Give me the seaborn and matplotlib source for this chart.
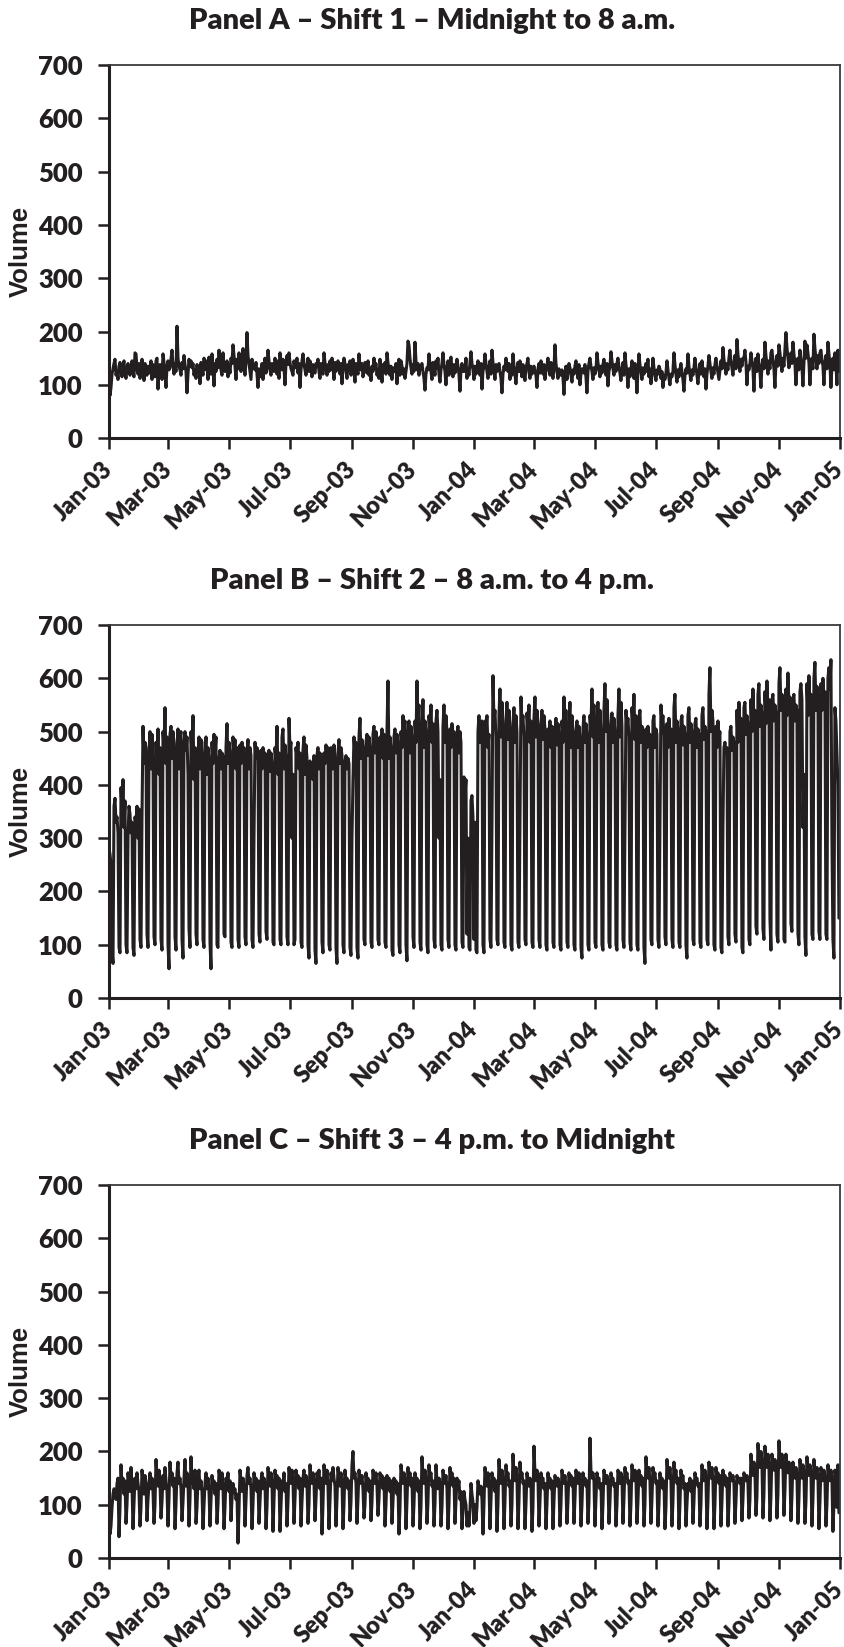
import pandas as pd
import matplotlib
matplotlib.use("Agg")
import matplotlib.pyplot as plt
import matplotlib.dates as mdates
import seaborn as sns


# ==========================================
# DATA (daily volumes, starting 1 Jan 2003)
# ==========================================

start_date = "2003-01-01"

shift1 = [
    125, 80, 95, 120, 130,
    140, 148, 118, 125, 110, 135, 142,
    128, 115, 138, 145, 120, 112, 130,
    140, 125, 118, 132, 145, 122, 115,
    160, 158, 130, 120, 140, 112, 125,
    148, 132, 108, 140, 125, 118, 135,
    122, 130, 145, 110, 138, 128, 115,
    145, 150, 92, 130, 138, 125, 110,
    158, 142, 120, 95, 135, 145, 128,
    132, 148, 165, 138, 120, 140, 125,
    210, 150, 135, 128, 118, 142, 130,
    155, 138, 125, 85, 120, 148, 135,
    145, 132, 140, 118, 128, 112, 138,
    125, 135, 102, 142, 130, 118, 150,
    138, 128, 145, 110, 152, 135, 120,
    158, 130, 98, 140, 125, 148, 132,
    165, 142, 128, 118, 160, 135, 125,
    130, 145, 115, 138, 122, 150, 140,
    175, 155, 135, 110, 148, 130, 160,
    142, 125, 150, 168, 135, 118, 145,
    198, 155, 140, 125, 110, 148, 135,
    138, 128, 142, 120, 95, 130, 115,
    125, 140, 110, 135, 150, 122, 132,
    165, 145, 128, 118, 140, 132, 125,
    150, 138, 120, 145, 112, 160, 135,
    128, 148, 132, 100, 140, 155, 138,
    160, 142, 130, 125, 118, 145, 132,
    135, 150, 122, 140, 95, 128, 145,
    158, 140, 128, 118, 135, 150, 125,
    145, 130, 115, 138, 128, 122, 140,
    135, 148, 125, 112, 140, 130, 120,
    160, 142, 130, 118, 138, 125, 145,
    128, 150, 135, 110, 142, 125, 138,
    145, 132, 120, 140, 102, 135, 150,
    140, 125, 112, 138, 128, 145, 118,
    130, 148, 125, 105, 140, 132, 120,
    158, 135, 128, 140, 115, 125, 142,
    138, 122, 145, 118, 130, 108, 135,
    125, 150, 132, 140, 118, 128, 112,
    148, 130, 105, 138, 125, 142, 120,
    160, 142, 128, 118, 135, 110, 130,
    132, 125, 140, 102, 128, 148, 118,
    145, 135, 120, 130, 112, 125, 140,
    182, 175, 150, 132, 120, 138, 125,
    180, 145, 128, 140, 118, 130, 135,
    140, 125, 112, 90, 120, 132, 128,
    158, 138, 125, 110, 142, 130, 118,
    145, 132, 150, 120, 105, 128, 140,
    160, 138, 125, 100, 132, 145, 118,
    140, 152, 128, 115, 138, 122, 130,
    148, 135, 120, 88, 128, 140, 125,
    135, 125, 150, 112, 130, 118, 142,
    162, 140, 128, 110, 135, 120, 130,
    145, 130, 118, 140, 92, 125, 135,
    158, 140, 125, 112, 132, 145, 120,
    165, 142, 128, 110, 138, 125, 130,
    140, 125, 112, 85, 120, 135, 128,
    150, 138, 125, 140, 110, 128, 118,
    158, 135, 120, 102, 130, 142, 125,
    145, 128, 115, 138, 122, 108, 132,
    140, 150, 125, 112, 135, 120, 128,
    135, 125, 118, 95, 130, 140, 122,
    145, 132, 120, 138, 110, 128, 135,
    150, 128, 118, 142, 125, 112, 130,
    175, 140, 125, 112, 130, 120, 118,
    128, 115, 82, 122, 135, 110, 125,
    140, 132, 118, 105, 128, 120, 135,
    145, 125, 112, 138, 100, 120, 130,
    130, 122, 138, 115, 85, 125, 140,
    150, 135, 125, 110, 132, 120, 128,
    160, 142, 128, 115, 135, 122, 138,
    148, 130, 118, 140, 98, 125, 135,
    162, 145, 130, 118, 138, 125, 140,
    150, 135, 122, 108, 128, 142, 118,
    160, 138, 125, 95, 130, 115, 128,
    145, 130, 112, 140, 122, 85, 125,
    158, 138, 125, 110, 132, 120, 128,
    140, 125, 148, 115, 130, 102, 122,
    150, 132, 118, 108, 128, 120, 135,
    130, 112, 125, 95, 118, 110, 122,
    145, 128, 112, 100, 120, 115, 125,
    160, 138, 120, 105, 128, 115, 130,
    140, 125, 110, 88, 118, 130, 122,
    158, 135, 120, 108, 128, 118, 132,
    150, 132, 118, 102, 125, 140, 120,
    145, 128, 115, 130, 92, 120, 135,
    155, 140, 125, 112, 132, 120, 138,
    150, 135, 122, 110, 128, 145, 130,
    170, 148, 135, 120, 140, 128, 150,
    165, 145, 132, 118, 140, 155, 130,
    185, 158, 140, 125, 148, 135, 150,
    150, 165, 142, 100, 135, 128, 140,
    160, 145, 130, 88, 138, 150, 125,
    158, 140, 125, 95, 135, 148, 130,
    180, 155, 138, 120, 145, 130, 160,
    165, 148, 130, 95, 140, 155, 135,
    175, 160, 142, 125, 150, 135, 168,
    198, 170, 150, 132, 145, 160, 140,
    180, 158, 140, 100, 135, 150, 128,
    165, 148, 135, 98, 140, 182, 150,
    175, 160, 142, 100, 138, 150, 130,
    195, 168, 150, 130, 155, 140, 160,
    165, 148, 135, 100, 140, 155, 130,
    180, 158, 140, 95, 135, 150, 128,
    160, 140, 100, 165, 125,
]

shift2 = [
    280, 270, 250, 90, 65,
    360, 375, 330, 340, 310, 95, 85,
    395, 350, 410, 320, 370, 100, 85,
    300, 360, 345, 310, 330, 95, 80,
    340, 325, 360, 300, 355, 110, 95,
    340, 510, 440, 480, 470, 120, 95,
    460, 500, 430, 495, 450, 115, 100,
    480, 440, 505, 420, 470, 110, 90,
    500, 470, 545, 440, 490, 100, 55,
    495, 510, 450, 500, 480, 115, 90,
    470, 505, 430, 490, 500, 110, 75,
    480, 500, 465, 490, 420, 130, 95,
    500, 450, 530, 410, 470, 120, 100,
    460, 490, 430, 485, 480, 110, 95,
    455, 490, 420, 470, 450, 105, 55,
    480, 440, 495, 460, 490, 100, 95,
    450, 465, 430, 460, 455, 120, 115,
    470, 515, 440, 480, 460, 105, 95,
    490, 455, 485, 430, 470, 110, 95,
    475, 440, 480, 460, 470, 115, 100,
    460, 485, 430, 470, 455, 110, 95,
    300, 480, 450, 470, 460, 120, 105,
    465, 430, 470, 450, 460, 125, 110,
    455, 465, 425, 460, 440, 105, 100,
    470, 445, 510, 420, 460, 110, 100,
    490, 505, 430, 475, 450, 115, 100,
    525, 470, 480, 300, 420, 100, 110,
    470, 450, 480, 430, 460, 105, 95,
    465, 490, 420, 475, 450, 100, 75,
    445, 430, 440, 410, 455, 90, 65,
    455, 470, 430, 460, 450, 105, 85,
    460, 440, 475, 455, 470, 100, 90,
    470, 465, 430, 475, 450, 95, 65,
    460, 485, 440, 470, 455, 100, 85,
    445, 455, 430, 450, 440, 95, 80,
    300, 410, 490, 460, 480, 95, 75,
    490, 525, 450, 485, 470, 110, 100,
    480, 495, 455, 490, 470, 105, 95,
    495, 510, 460, 500, 480, 110, 100,
    490, 475, 505, 450, 495, 105, 95,
    500, 595, 450, 490, 470, 90, 80,
    490, 505, 460, 495, 480, 100, 85,
    500, 470, 530, 490, 520, 100, 70,
    500, 520, 460, 510, 490, 115, 95,
    520, 480, 595, 510, 550, 105, 90,
    510, 560, 470, 520, 500, 100, 85,
    530, 500, 550, 480, 515, 110, 95,
    520, 540, 500, 300, 410, 100, 90,
    510, 550, 480, 530, 500, 110, 95,
    505, 470, 515, 490, 500, 100, 90,
    495, 510, 460, 500, 480, 105, 95,
    415, 380, 410, 120, 300, 95, 90,
    370, 380, 340, 110, 330, 90, 85,
    500, 530, 480, 510, 520, 100, 85,
    520, 505, 530, 470, 495, 110, 95,
    320, 605, 520, 540, 490, 110, 100,
    530, 580, 490, 555, 510, 105, 95,
    520, 555, 485, 540, 505, 100, 90,
    515, 545, 480, 530, 500, 105, 95,
    320, 565, 515, 530, 490, 110, 100,
    535, 505, 550, 480, 520, 105, 95,
    525, 565, 490, 540, 510, 110, 95,
    515, 540, 485, 530, 505, 100, 90,
    505, 490, 520, 470, 510, 105, 95,
    500, 525, 475, 515, 495, 100, 90,
    520, 480, 565, 505, 540, 105, 95,
    515, 555, 470, 530, 500, 100, 90,
    500, 520, 470, 510, 490, 95, 75,
    505, 530, 480, 515, 495, 100, 90,
    530, 510, 580, 490, 550, 105, 95,
    520, 555, 480, 540, 500, 100, 90,
    540, 590, 500, 560, 520, 105, 95,
    510, 535, 480, 525, 500, 100, 90,
    530, 580, 490, 555, 510, 110, 95,
    320, 540, 510, 525, 490, 105, 90,
    545, 510, 570, 485, 530, 100, 90,
    525, 540, 480, 510, 500, 95, 65,
    505, 470, 510, 485, 495, 110, 100,
    520, 530, 470, 505, 495, 110, 95,
    320, 550, 515, 530, 490, 115, 100,
    515, 470, 525, 490, 505, 110, 95,
    545, 570, 480, 520, 505, 105, 95,
    520, 530, 475, 510, 495, 100, 75,
    530, 545, 480, 515, 500, 110, 100,
    515, 525, 470, 505, 495, 105, 95,
    530, 545, 485, 510, 500, 110, 100,
    570, 620, 500, 540, 520, 100, 90,
    510, 470, 520, 490, 500, 95, 85,
    320, 470, 480, 460, 470, 115, 100,
    500, 510, 465, 490, 480, 120, 105,
    540, 480, 555, 505, 525, 95, 85,
    545, 555, 495, 530, 515, 110, 100,
    560, 500, 580, 525, 540, 135, 120,
    570, 590, 510, 550, 535, 130, 110,
    575, 515, 595, 540, 560, 150, 90,
    560, 570, 520, 550, 535, 120, 105,
    590, 620, 540, 570, 560, 110, 105,
    580, 530, 610, 550, 565, 140, 125,
    560, 570, 520, 550, 540, 120, 100,
    575, 590, 560, 320, 420, 115, 80,
    590, 530, 605, 555, 570, 120, 110,
    600, 630, 540, 585, 565, 125, 110,
    590, 540, 600, 560, 575, 120, 110,
    600, 620, 580, 635, 300, 110, 75,
    545, 520, 460, 400, 150,
]

shift3 = [
    110, 45, 60, 95, 120,
    130, 125, 110, 140, 150, 40, 95,
    175, 135, 150, 120, 145, 65, 100,
    160, 140, 125, 170, 135, 55, 105,
    150, 130, 160, 140, 125, 60, 95,
    165, 145, 120, 155, 140, 70, 110,
    140, 160, 130, 150, 125, 65, 100,
    185, 150, 135, 165, 140, 75, 105,
    155, 130, 170, 145, 125, 60, 110,
    180, 145, 160, 135, 150, 55, 100,
    160, 180, 140, 150, 130, 70, 105,
    150, 185, 135, 160, 140, 60, 110,
    190, 140, 155, 130, 165, 65, 95,
    150, 165, 130, 145, 125, 55, 100,
    140, 160, 130, 150, 125, 60, 105,
    155, 135, 145, 120, 140, 65, 100,
    165, 150, 130, 160, 135, 55, 95,
    150, 140, 160, 125, 145, 70, 110,
    140, 125, 130, 110, 120, 28, 90,
    165, 145, 125, 150, 135, 60, 105,
    155, 170, 140, 150, 130, 55, 100,
    160, 140, 150, 125, 145, 65, 105,
    145, 160, 130, 150, 140, 55, 95,
    170, 150, 135, 160, 140, 50, 110,
    165, 145, 155, 130, 150, 50, 100,
    145, 135, 160, 125, 140, 60, 105,
    170, 150, 140, 165, 145, 65, 110,
    165, 140, 155, 130, 150, 60, 105,
    150, 165, 135, 155, 140, 65, 100,
    175, 150, 140, 160, 145, 70, 110,
    160, 145, 165, 130, 150, 45, 100,
    175, 150, 140, 165, 135, 55, 105,
    160, 145, 170, 150, 135, 60, 110,
    170, 150, 135, 160, 145, 55, 100,
    165, 140, 150, 130, 145, 70, 105,
    175, 200, 150, 160, 140, 65, 110,
    165, 150, 140, 155, 130, 75, 100,
    160, 135, 150, 125, 145, 70, 105,
    165, 150, 140, 160, 135, 80, 110,
    160, 145, 155, 130, 150, 60, 100,
    155, 140, 150, 125, 145, 65, 105,
    150, 135, 145, 120, 140, 45, 95,
    175, 155, 140, 160, 145, 55, 105,
    170, 145, 160, 135, 150, 60, 100,
    160, 140, 150, 125, 145, 55, 95,
    190, 155, 140, 165, 145, 65, 105,
    175, 150, 160, 135, 145, 60, 100,
    175, 145, 130, 150, 140, 60, 95,
    165, 150, 140, 155, 130, 55, 100,
    170, 145, 160, 135, 150, 65, 105,
    150, 130, 145, 110, 125, 55, 90,
    125, 110, 100, 60, 85, 60, 90,
    140, 120, 105, 65, 100, 70, 95,
    145, 130, 120, 135, 110, 45, 100,
    170, 150, 135, 160, 140, 55, 105,
    160, 140, 150, 125, 145, 50, 100,
    185, 155, 140, 165, 145, 55, 105,
    175, 150, 160, 135, 145, 60, 100,
    195, 160, 145, 170, 150, 55, 105,
    180, 150, 160, 140, 145, 55, 100,
    160, 145, 135, 150, 140, 50, 95,
    210, 160, 145, 165, 150, 60, 105,
    160, 145, 150, 130, 140, 55, 100,
    160, 140, 150, 130, 145, 55, 105,
    155, 145, 135, 150, 140, 60, 100,
    165, 150, 140, 155, 135, 65, 105,
    160, 145, 155, 135, 150, 65, 110,
    165, 150, 140, 160, 145, 60, 100,
    160, 140, 150, 135, 145, 65, 105,
    225, 165, 150, 160, 145, 60, 110,
    160, 145, 150, 130, 140, 55, 100,
    165, 150, 140, 155, 145, 65, 105,
    160, 145, 150, 135, 140, 60, 100,
    165, 155, 140, 160, 150, 65, 110,
    170, 150, 160, 140, 145, 60, 100,
    175, 155, 145, 165, 150, 65, 105,
    165, 145, 155, 135, 150, 60, 100,
    190, 160, 150, 170, 145, 65, 110,
    170, 150, 160, 140, 145, 60, 100,
    160, 140, 150, 130, 145, 55, 95,
    185, 160, 150, 170, 145, 60, 105,
    180, 150, 165, 140, 150, 55, 100,
    165, 145, 155, 130, 140, 60, 100,
    140, 135, 150, 125, 145, 65, 105,
    160, 145, 150, 135, 140, 60, 100,
    175, 155, 145, 165, 150, 55, 105,
    180, 160, 150, 170, 145, 55, 100,
    170, 150, 160, 140, 155, 60, 105,
    165, 145, 155, 135, 150, 60, 100,
    160, 150, 145, 155, 140, 65, 105,
    155, 145, 150, 140, 150, 70, 110,
    160, 150, 145, 155, 140, 75, 110,
    195, 170, 155, 180, 160, 80, 115,
    215, 190, 170, 200, 180, 75, 120,
    210, 185, 170, 195, 175, 70, 115,
    195, 175, 165, 185, 170, 75, 120,
    220, 185, 170, 195, 175, 80, 125,
    195, 170, 160, 180, 165, 70, 115,
    180, 160, 150, 170, 155, 65, 110,
    185, 165, 150, 175, 160, 65, 105,
    190, 165, 155, 175, 160, 60, 110,
    185, 160, 150, 170, 155, 55, 105,
    170, 155, 145, 165, 150, 60, 100,
    175, 155, 145, 165, 150, 50, 100,
    165, 150, 95, 175, 85,
]

panel_titles = [
    "Panel A \u2013 Shift 1 \u2013 Midnight to 8 a.m.",
    "Panel B \u2013 Shift 2 \u2013 8 a.m. to 4 p.m.",
    "Panel C \u2013 Shift 3 \u2013 4 p.m. to Midnight",
]

y_ticks = [0, 100, 200, 300, 400, 500, 600, 700]


# ==========================================
# PLOT
# ==========================================

sns.set_style("white")
plt.rcParams["font.family"] = ["Lato", "DejaVu Sans"]

ink = "#231f20"

fig = plt.figure(figsize=(8.45, 16.47), dpi=100)

# axes boxes in figure fractions (left, bottom, width, height)
boxes = [
    (0.129, 0.734, 0.865, 0.2265),
    (0.129, 0.394, 0.865, 0.2265),
    (0.129, 0.054, 0.865, 0.2265),
]

for box, series, title in zip(boxes, [shift1, shift2, shift3], panel_titles):
    ax = fig.add_axes(box)

    df = pd.DataFrame({
        "Date": pd.date_range(start_date, periods=len(series), freq="D"),
        "Volume": series,
    })

    sns.lineplot(data=df, x="Date", y="Volume", ax=ax,
                 color=ink, linewidth=2.2)

    ax.set_xlim(pd.Timestamp("2003-01-01"), pd.Timestamp("2005-01-01"))
    ax.set_ylim(0, 700)
    ax.set_yticks(y_ticks)

    ax.xaxis.set_major_locator(mdates.MonthLocator(bymonth=[1, 3, 5, 7, 9, 11]))
    ax.xaxis.set_major_formatter(mdates.DateFormatter("%b-%y"))

    ax.tick_params(axis="x", direction="out", length=8, width=1.8,
                   color=ink, bottom=True, pad=12)
    ax.tick_params(axis="y", direction="out", length=8, width=1.8,
                   color=ink, left=True, pad=11)

    for lbl in ax.get_xticklabels():
        lbl.set_rotation(45)
        lbl.set_ha("right")
        lbl.set_va("center")
        lbl.set_rotation_mode("anchor")
        lbl.set_fontweight("heavy")
        lbl.set_fontsize(17)
        lbl.set_color(ink)
    for lbl in ax.get_yticklabels():
        lbl.set_fontweight("heavy")
        lbl.set_fontsize(18.5)
        lbl.set_color(ink)

    ax.set_xlabel("")
    ax.set_ylabel("Volume", fontsize=18.5, fontweight="bold",
                  family="Liberation Sans", color=ink)
    ax.yaxis.set_label_coords(-0.104, 0.5)

    ax.set_title(title, fontsize=21, fontweight="heavy", color=ink,
                 x=0.442, pad=26)

    for side in ["left", "bottom"]:
        ax.spines[side].set_linewidth(2.2)
        ax.spines[side].set_color(ink)
    for side in ["top", "right"]:
        ax.spines[side].set_linewidth(1.3)
        ax.spines[side].set_color("#3a3a3a")

plt.savefig("out.png", dpi=100)
